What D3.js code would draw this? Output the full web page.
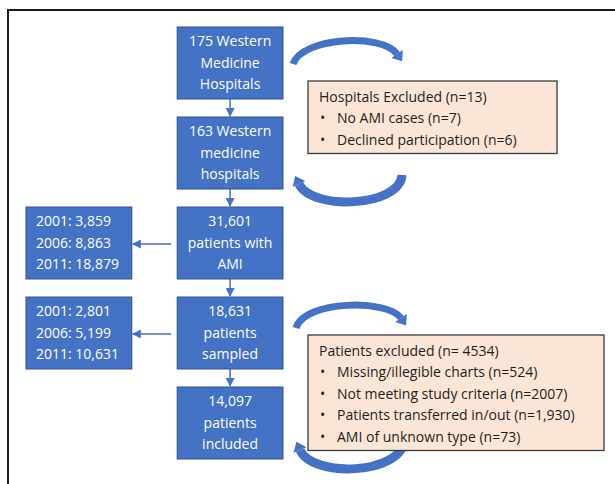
<!DOCTYPE html>
<html>
<head>
<meta charset="utf-8">
<script src="https://cdn.jsdelivr.net/npm/d3@7"></script>
<style>
  body{margin:0;background:#fff;}
  .box{fill:#4472c4;stroke:#2f528f;stroke-width:1;}
  .note{fill:#fbe5d6;stroke:#3a3a3a;stroke-width:1.3;}
  .btxt{fill:#fff;font-family:"Open Sans",sans-serif;font-size:14px;}
  .ntxt{fill:#1e1e1e;font-family:"Open Sans",sans-serif;font-size:14px;}
  .link{stroke:#4472c4;stroke-width:1.5;fill:none;}
  .bend{fill:none;stroke:#4472c4;stroke-linecap:butt;}
</style>
</head>
<body>
<script>
// flow steps, top to bottom
var mainLabels=[["175 Western","Medicine","Hospitals"],
                ["163 Western","medicine","hospitals"],
                ["31,601","patients with","AMI"],
                ["18,631","patients","sampled"],
                ["14,097","patients","included"]];
// per-year split, hangs off steps 2 and 3
var yearRows=[2,3];
var yearLabels=[["2001: 3,859","2006: 8,863","2011: 18,879"],
                ["2001: 2,801","2006: 5,199","2011: 10,631"]];
var hospTitle="Hospitals Excluded (n=13)";
var hospItems=["No AMI cases (n=7)","Declined participation (n=6)"];
var patTitle="Patients excluded (n= 4534)";
var patItems=["Missing/illegible charts (n=524)","Not meeting study criteria (n=2007)",
              "Patients transferred in/out (n=1,930)","AMI of unknown type (n=73)"];

var w=615,h=484,lh=21.5;
var svg=d3.select('body').append('svg').attr('width',w).attr('height',h);

svg.append('rect').attr('x',8).attr('y',10).attr('width',700).attr('height',600)
   .attr('fill','none').attr('stroke','#1a1a1a').attr('stroke-width',2);

var y=d3.scaleBand().domain(d3.range(mainLabels.length)).range([27,459]).paddingInner(0.2);
var x=d3.scaleBand().domain(['year','main']).range([26,283]).paddingInner(0.3);
var bw=x.bandwidth(),bh=y.bandwidth();

svg.append('defs').append('marker').attr('id','head')
   .attr('markerUnits','userSpaceOnUse').attr('markerWidth',9).attr('markerHeight',9)
   .attr('refX',8).attr('refY',4.5).attr('orient','auto')
   .append('path').attr('d','M0,0L9,4.5L0,9Z').attr('fill','#4472c4');

// curved arrows
function bend(p0,c1,c2,p3,sw){
    var p=d3.path();
    p.moveTo(p0[0],p0[1]);
    p.bezierCurveTo(c1[0],c1[1],c2[0],c2[1],p3[0],p3[1]);
    svg.append('path').attr('class','bend').attr('d',p.toString()).attr('stroke-width',sw);
    var dx=p3[0]-c2[0],dy=p3[1]-c2[1],l=Math.sqrt(dx*dx+dy*dy);
    dx/=l;dy/=l;
    var hl=9,hw=7;
    var tip=[p3[0]+dx*hl,p3[1]+dy*hl];
    var a=[p3[0]-dy*hw,p3[1]+dx*hw],b=[p3[0]+dy*hw,p3[1]-dx*hw];
    svg.append('path').attr('d','M'+a+'L'+tip+'L'+b+'Z').attr('fill','#4472c4');
}
bend([293,64],[302,37],[382,33],[397,54],7);
bend([402,175],[400,207],[312,211],[299,184],9);
bend([296,328],[304,300],[388,299],[401,318],7);
bend([404,440],[402,475],[312,478],[300,450],9);

// exclusion notes
function note(x0,y0,wd,title,items){
    var n=items.length+1,ht=n*lh+8;
    svg.append('rect').attr('class','note').attr('x',x0).attr('y',y0).attr('width',wd).attr('height',ht);
    var cy=y0+ht/2+1;
    var lines=[title].concat(items);
    var g=svg.append('g');
    g.selectAll('text.t').data(lines).enter().append('text').attr('class','ntxt')
     .attr('x',function(d,i){return i==0?x0+11:x0+29;})
     .attr('y',function(d,i){return cy+(i-(n-1)/2)*lh;})
     .attr('dy','0.35em').text(function(d){return d;});
    g.selectAll('text.b').data(items).enter().append('text').attr('class','ntxt')
     .attr('x',x0+12)
     .attr('y',function(d,i){return cy+(i+1-(n-1)/2)*lh;})
     .attr('dy','0.35em').text('\u2022');
}
note(308,81,249,hospTitle,hospItems);
note(308,335,296,patTitle,patItems);

// links
var cx=x('main')+bw/2;
svg.selectAll('line.v').data(d3.range(mainLabels.length-1)).enter().append('line')
   .attr('class','link').attr('x1',cx).attr('x2',cx)
   .attr('y1',function(d){return y(d)+bh;})
   .attr('y2',function(d){return y(d+1)-1;})
   .attr('marker-end','url(#head)');
svg.selectAll('line.hz').data(yearRows).enter().append('line')
   .attr('class','link').attr('x1',x('main')-6).attr('x2',x('year')+bw+1)
   .attr('y1',function(d){return y(d)+bh/2+1;})
   .attr('y2',function(d){return y(d)+bh/2+1;})
   .attr('marker-end','url(#head)');

// main boxes
var mg=svg.selectAll('g.main').data(mainLabels).enter().append('g')
   .attr('transform',function(d,i){return 'translate('+x('main')+','+y(i)+')';});
mg.append('rect').attr('class','box').attr('width',bw).attr('height',bh);
mg.selectAll('text').data(function(d){return d;}).enter().append('text')
  .attr('class','btxt').attr('text-anchor','middle').attr('x',bw/2)
  .attr('y',function(d,i,a){return bh/2+(i-(a.length-1)/2)*lh;})
  .attr('dy','0.35em').text(function(d){return d;});

// year boxes
var yg=svg.selectAll('g.year').data(yearLabels).enter().append('g')
   .attr('transform',function(d,i){return 'translate('+x('year')+','+y(yearRows[i])+')';});
yg.append('rect').attr('class','box').attr('width',bw).attr('height',bh);
yg.selectAll('text').data(function(d){return d;}).enter().append('text')
  .attr('class','btxt').attr('x',10)
  .attr('y',function(d,i,a){return bh/2+(i-(a.length-1)/2)*lh;})
  .attr('dy','0.35em').text(function(d){return d;});
</script>
</body>
</html>
